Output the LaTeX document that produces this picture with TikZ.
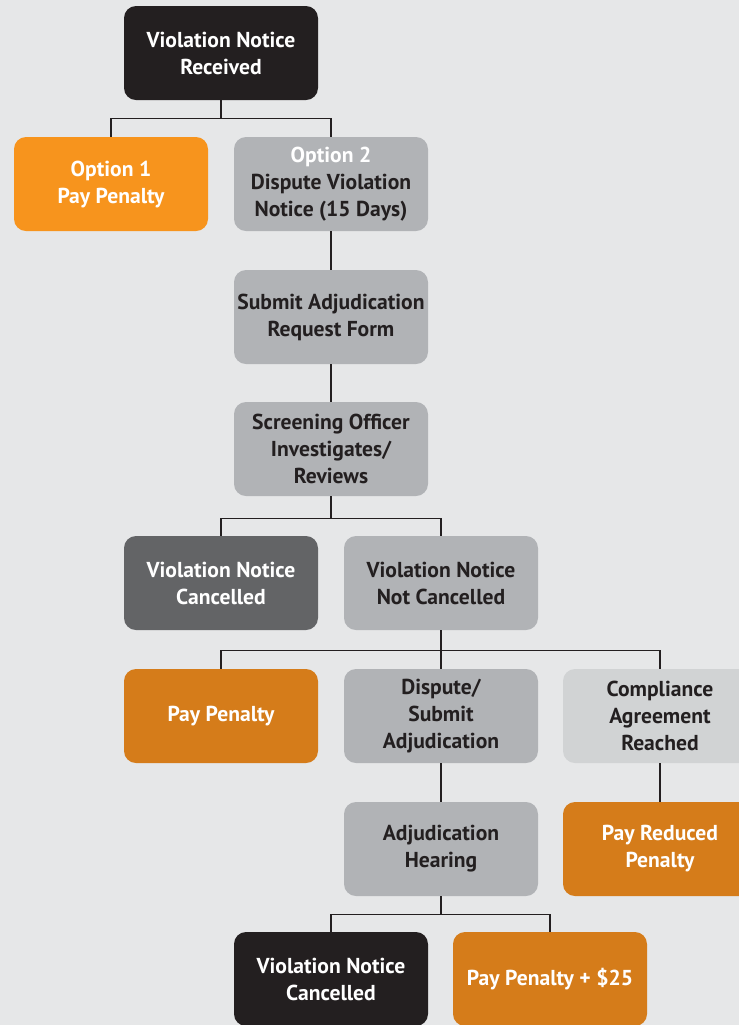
\documentclass[tikz,border=0pt]{standalone}
\usepackage{fontspec}
\setmainfont{PT Sans}
\usepackage{tikz}
\usetikzlibrary{positioning}
\definecolor{bgray}{HTML}{E6E7E8}
\definecolor{inkblack}{HTML}{231F20}
\definecolor{brightorange}{HTML}{F7941D}
\definecolor{darkorange}{HTML}{D57C1A}
\definecolor{midgray}{HTML}{B1B3B6}
\definecolor{darkgray}{HTML}{636466}
\definecolor{lightgray}{HTML}{D1D3D4}

\begin{document}
\begin{tikzpicture}[node distance=65.5pt and 55pt,on grid,
    box/.style={rectangle,rounded corners=6pt,minimum width=97pt,minimum height=47pt,
        align=center,font=\fontsize{10.8}{13.5}\selectfont\bfseries,inner sep=0pt},
    blackbox/.style={box,fill=inkblack,text=white},
    orangebox/.style={box,fill=darkorange,text=white},
    graybox/.style={box,fill=midgray,text=inkblack},
    link/.style={draw=inkblack,line width=0.75pt}]
    \fill[bgray] (0,0) rectangle (369.5pt,-512.5pt);
    \useasboundingbox (0,0) rectangle (369.5pt,-512.5pt);

    \node[blackbox] (received) at (110.5pt,-26.5pt) {Violation Notice\\Received};
    \node[box,fill=brightorange,text=white] (option1) [below left=of received] {Option 1\\Pay Penalty};
    \node[graybox] (option2) [below right=of received] {\textcolor{white}{Option 2}\\Dispute Violation\\Notice (15 Days)};
    \node[graybox] (submit) [below=66.5pt of option2] {Submit Adjudication\\Request Form};
    \node[graybox] (screening) [below=66pt of submit] {Screening Officer\\Investigates/\\Reviews};
    \node[box,fill=darkgray,text=white] (cancelled) [below left=67pt and 55pt of screening] {Violation Notice\\Cancelled};
    \node[graybox] (notcancelled) [below right=67pt and 55pt of screening] {Violation Notice\\Not Cancelled};
    \node[orangebox] (paypenalty) [below=66.5pt of cancelled] {Pay Penalty};
    \node[graybox] (dispute) [below=66.5pt of notcancelled] {Dispute/\\Submit\\Adjudication};
    \node[box,fill=lightgray,text=inkblack] (compliance) [right=109.5pt of dispute] {Compliance\\Agreement\\Reached};
    \node[graybox] (hearing) [below=66.5pt of dispute] {Adjudication\\Hearing};
    \node[orangebox] (payreduced) [below=66.5pt of compliance] {Pay Reduced\\Penalty};
    \node[blackbox] (finalcancelled) [below left=65pt and 55pt of hearing] {Violation Notice\\Cancelled};
    \node[orangebox] (payextra) [below right=65pt and 54.5pt of hearing] {Pay Penalty + \$25};

    % branches
    \draw[link] (received.south) -- ++(0,-9pt) -| (option1.north);
    \draw[link] (received.south) -- ++(0,-9pt) -| (option2.north);
    \draw[link] (option2) -- (submit);
    \draw[link] (submit) -- (screening);
    \draw[link] (screening.south) -- ++(0,-11pt) -| (cancelled.north);
    \draw[link] (screening.south) -- ++(0,-11pt) -| (notcancelled.north);
    \draw[link] (notcancelled.south) -- ++(0,-10pt) -| (paypenalty.north);
    \draw[link] (notcancelled.south) -- (dispute.north);
    \draw[link] (notcancelled.south) -- ++(0,-10pt) -| (compliance.north);
    \draw[link] (dispute) -- (hearing);
    \draw[link] (compliance) -- (payreduced);
    \draw[link] (hearing.south) -- ++(0,-9pt) -| (finalcancelled.north);
    \draw[link] (hearing.south) -- ++(0,-9pt) -| (payextra.north);
\end{tikzpicture}
\end{document}
